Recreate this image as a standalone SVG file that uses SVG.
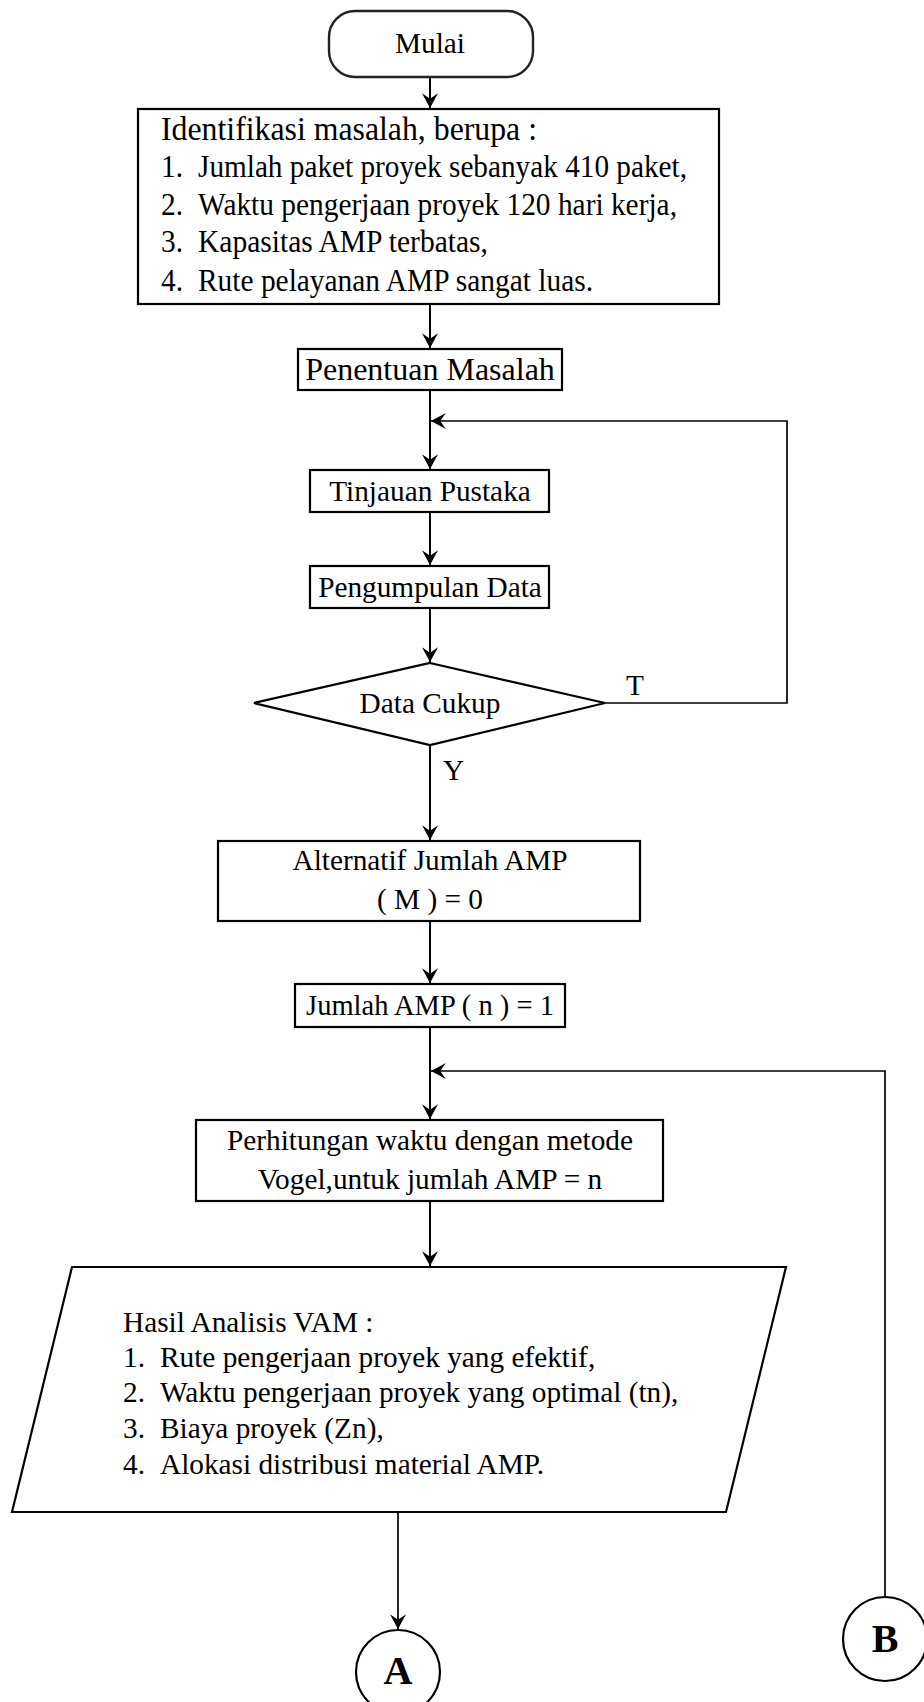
<svg xmlns="http://www.w3.org/2000/svg" width="924" height="1702" viewBox="0 0 924 1702">
<defs>
<style>
.box{fill:#fff;stroke:#000;stroke-width:2.2}
.term{fill:#fff;stroke:#222;stroke-width:2.4}
.t{font-family:"Liberation Serif","Times New Roman",serif;font-size:29.3px;fill:#000}
.c{text-anchor:middle}
.big{font-size:32px}
.id{font-size:31.5px}
.idh{font-size:34px}
.bold{font-weight:bold;font-size:40px}
.con{fill:none;stroke:#000;stroke-width:2}
.loop{fill:none;stroke:#000;stroke-width:1.7}
</style>
<marker id="arr" markerUnits="userSpaceOnUse" markerWidth="16" markerHeight="16" viewBox="0 0 14 14" refX="13" refY="7" orient="auto">
<path d="M0,0 L13,7 L0,14 L5,7 Z" fill="#000"/>
</marker>
</defs>

<g id="connectors">
<path class="con" d="M430,77 V108" marker-end="url(#arr)"/>
<path class="con" d="M430,304 V348" marker-end="url(#arr)"/>
<path class="con" d="M430,390 V469" marker-end="url(#arr)"/>
<path class="con" d="M430,512 V565" marker-end="url(#arr)"/>
<path class="con" d="M430,608 V662" marker-end="url(#arr)"/>
<path class="loop" d="M605,703 H787 V421 H431" marker-end="url(#arr)"/>
<path class="con" d="M430,745 V840" marker-end="url(#arr)"/>
<path class="con" d="M430,921 V983" marker-end="url(#arr)"/>
<path class="con" d="M430,1027 V1119" marker-end="url(#arr)"/>
<path class="loop" d="M885,1597 V1071 H431" marker-end="url(#arr)"/>
<path class="con" d="M430,1201 V1266" marker-end="url(#arr)"/>
<path class="loop" d="M398,1512 V1629" marker-end="url(#arr)"/>
<text class="t" x="626" y="695">T</text>
<text class="t" x="443" y="780">Y</text>
</g>

<g id="mulai">
<rect class="term" x="329" y="11" width="204" height="66" rx="26" ry="26"/>
<text class="t c" x="430" y="53">Mulai</text>
</g>

<g id="identifikasi">
<rect class="box" x="138" y="109" width="581" height="195"/>
<text class="t idh" x="161" y="140" textLength="376" lengthAdjust="spacingAndGlyphs">Identifikasi masalah, berupa :</text>
<text class="t id" x="161" y="177" textLength="22" lengthAdjust="spacingAndGlyphs">1.</text><text class="t id" x="198" y="177" textLength="489" lengthAdjust="spacingAndGlyphs">Jumlah paket proyek sebanyak 410 paket,</text>
<text class="t id" x="161" y="215" textLength="22" lengthAdjust="spacingAndGlyphs">2.</text><text class="t id" x="198" y="215" textLength="479" lengthAdjust="spacingAndGlyphs">Waktu pengerjaan proyek 120 hari kerja,</text>
<text class="t id" x="161" y="252" textLength="22" lengthAdjust="spacingAndGlyphs">3.</text><text class="t id" x="198" y="252" textLength="290" lengthAdjust="spacingAndGlyphs">Kapasitas AMP terbatas,</text>
<text class="t id" x="161" y="291" textLength="22" lengthAdjust="spacingAndGlyphs">4.</text><text class="t id" x="198" y="291" textLength="395" lengthAdjust="spacingAndGlyphs">Rute pelayanan AMP sangat luas.</text>
</g>

<g id="penentuan">
<rect class="box" x="298" y="349" width="264" height="41"/>
<text class="t big c" x="430" y="380">Penentuan Masalah</text>
</g>

<g id="tinjauan">
<rect class="box" x="310" y="470" width="239" height="42"/>
<text class="t c" x="430" y="501">Tinjauan Pustaka</text>
</g>

<g id="pengumpulan">
<rect class="box" x="310" y="566" width="239" height="42"/>
<text class="t c" x="430" y="597">Pengumpulan Data</text>
</g>

<g id="datacukup">
<polygon class="box" points="430,663 605,703 430,745 254,703"/>
<text class="t c" x="430" y="713">Data Cukup</text>
</g>

<g id="alternatif">
<rect class="box" x="218" y="841" width="422" height="80"/>
<text class="t c" x="430" y="870">Alternatif Jumlah AMP</text>
<text class="t c" x="430" y="909">( M ) = 0</text>
</g>

<g id="jumlah">
<rect class="box" x="295" y="984" width="270" height="43"/>
<text class="t c" x="430" y="1015" style="font-size:28.5px">Jumlah AMP ( n ) = 1</text>
</g>

<g id="perhitungan">
<rect class="box" x="196" y="1120" width="467" height="81"/>
<text class="t c" x="430" y="1150">Perhitungan waktu dengan metode</text>
<text class="t c" x="430" y="1189">Vogel,untuk jumlah AMP = n</text>
</g>

<g id="hasil">
<polygon class="box" points="72,1267 786,1267 726,1512 12,1512"/>
<text class="t" x="123" y="1332">Hasil Analisis VAM :</text>
<text class="t" x="123" y="1367">1.</text><text class="t" x="160" y="1367">Rute pengerjaan proyek yang efektif,</text>
<text class="t" x="123" y="1402">2.</text><text class="t" x="160" y="1402">Waktu pengerjaan proyek yang optimal (tn),</text>
<text class="t" x="123" y="1438">3.</text><text class="t" x="160" y="1438">Biaya proyek (Zn),</text>
<text class="t" x="123" y="1474">4.</text><text class="t" x="160" y="1474">Alokasi distribusi material AMP.</text>
</g>

<g id="connA">
<ellipse class="box" cx="398" cy="1672" rx="42" ry="42"/>
<text class="t bold c" x="398" y="1684">A</text>
</g>

<g id="connB">
<ellipse class="box" cx="885" cy="1639" rx="42" ry="42"/>
<text class="t bold c" x="885" y="1652">B</text>
</g>
</svg>
